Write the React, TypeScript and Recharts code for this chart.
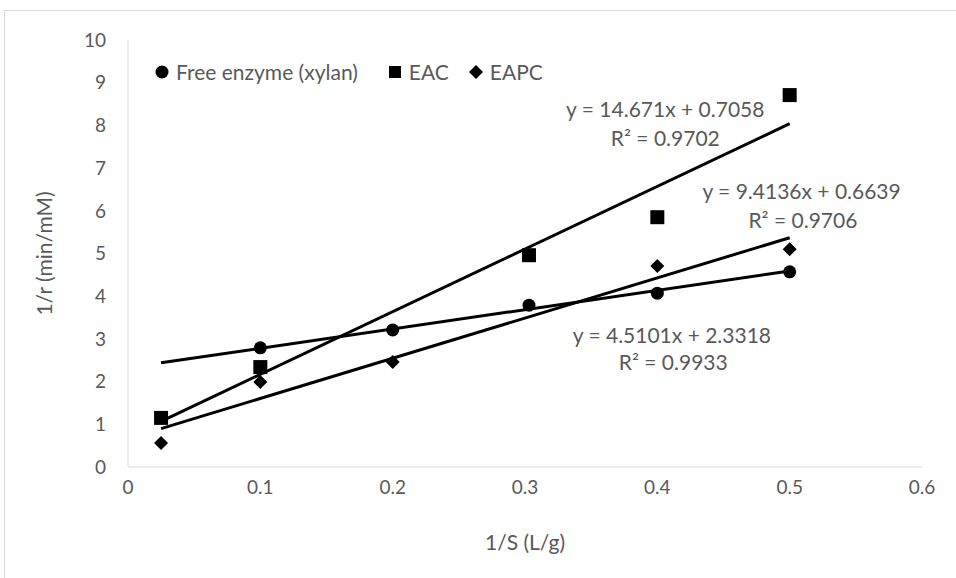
import {ComposedChart, Line, Scatter, XAxis, YAxis, ReferenceDot} from "recharts";

// measured points (1/S in L/g, 1/r in min/mM)
const xFree = [0.1, 0.2, 0.303, 0.4, 0.5]
const yFree = [2.79, 3.21, 3.79, 4.07, 4.57]
const xEac = [0.025, 0.1, 0.303, 0.4, 0.5]
const yEac = [1.15, 2.34, 4.96, 5.85, 8.71]
const xEapc = [0.025, 0.1, 0.2, 0.4, 0.5]
const yEapc = [0.56, 1.99, 2.46, 4.71, 5.1]

// linear trendlines, ends
const trendX = [0.025, 0.5]
const trendFree = [2.44, 4.59]
const trendEac = [1.07, 8.04]
const trendEapc = [0.90, 5.37]

const xTicks = [0, 0.1, 0.2, 0.3, 0.4, 0.5, 0.6]
const yTicks = [0, 1, 2, 3, 4, 5, 6, 7, 8, 9, 10]

const seriesNames = ["Free enzyme (xylan)", "EAC", "EAPC"]

// trendline equation labels: [x, y, text]
const equations: [number, number, string][] = [
    [0.406, 8.36, "y = 14.671x + 0.7058"],
    [0.406, 7.70, "R² = 0.9702"],
    [0.509, 6.44, "y = 9.4136x + 0.6639"],
    [0.510, 5.78, "R² = 0.9706"],
    [0.411, 3.09, "y = 4.5101x + 2.3318"],
    [0.412, 2.44, "R² = 0.9933"],
]

const FONT = "Lato, 'Open Sans', sans-serif"
const GREY = "#595959"

const zip = (xs: number[], ys: number[]) => xs.map((x, i) => ({x, y: ys[i]}))

const Dot = (p: any) => <circle cx={p.cx} cy={p.cy} r={6.5} fill="#000"/>
const Square = (p: any) => <rect x={p.cx - 7} y={p.cy - 7} width={14} height={14} fill="#000"/>
const Diamond = (p: any) => (
    <polygon points={`${p.cx},${p.cy - 7} ${p.cx + 7},${p.cy} ${p.cx},${p.cy + 7} ${p.cx - 7},${p.cy}`} fill="#000"/>
)

const icons = [
    <svg width={14} height={14}><circle cx={7} cy={7} r={6.5} fill="#000"/></svg>,
    <svg width={14} height={14}><rect x={1} y={1} width={12} height={12} fill="#000"/></svg>,
    <svg width={14} height={14}><polygon points="7,0 14,7 7,14 0,7" fill="#000"/></svg>,
]
const legendGap = [30, 20, 0]

const MyLegend = () => (
    <div style={{position: "absolute", left: 155, top: 59, display: "flex", alignItems: "center",
        fontFamily: FONT, fontSize: 21, color: GREY, whiteSpace: "nowrap"}}>
        {seriesNames.map((n, i) => (
            <div key={n} style={{display: "flex", alignItems: "center", marginRight: legendGap[i]}}>
                {icons[i]}
                <span style={{marginLeft: 7}}>{n}</span>
            </div>
        ))}
    </div>
)

const App = () => {
    return (
        <div style={{position: "absolute", left: 0, top: 0, width: 956, height: 578}}>
            <div style={{position: "absolute", left: 4, top: 10, width: 956, height: 578, border: "1px solid #d9d9d9", boxSizing: "border-box"}}/>
            <ComposedChart width={956} height={578} margin={{top: 40, right: 34, left: 0, bottom: 0}}>
                <XAxis type="number" dataKey="x" domain={[0, 0.6]} ticks={xTicks} height={111}
                       stroke="#d9d9d9" tickLine={false} tickSize={0} tickMargin={14}
                       tick={{fill: GREY, fontSize: 19, fontFamily: FONT}}
                       label={{value: "1/S (L/g)", position: "insideBottom", offset: 28, fill: GREY, fontSize: 21, fontFamily: FONT}}/>
                <YAxis type="number" domain={[0, 10]} ticks={yTicks} width={128}
                       stroke="#d9d9d9" tickLine={false} tickSize={0} tickMargin={22}
                       tick={{fill: GREY, fontSize: 19, fontFamily: FONT}}
                       label={{value: "1/r (min/mM)", angle: -90, position: "insideLeft", offset: 45, fill: GREY, fontSize: 21, fontFamily: FONT, style: {textAnchor: "middle"}}}/>
                <Line data={zip(trendX, trendFree)} dataKey="y" stroke="#000" strokeWidth={3} dot={false} isAnimationActive={false}/>
                <Line data={zip(trendX, trendEac)} dataKey="y" stroke="#000" strokeWidth={3} dot={false} isAnimationActive={false}/>
                <Line data={zip(trendX, trendEapc)} dataKey="y" stroke="#000" strokeWidth={3} dot={false} isAnimationActive={false}/>
                <Scatter name={seriesNames[0]} data={zip(xFree, yFree)} dataKey="y" shape={Dot} isAnimationActive={false}/>
                <Scatter name={seriesNames[1]} data={zip(xEac, yEac)} dataKey="y" shape={Square} isAnimationActive={false}/>
                <Scatter name={seriesNames[2]} data={zip(xEapc, yEapc)} dataKey="y" shape={Diamond} isAnimationActive={false}/>
                {equations.map(([x, y, t]) => (
                    <ReferenceDot key={t} x={x} y={y} r={0} stroke="none"
                                  label={{value: t, position: "center", fill: GREY, fontSize: 21, fontFamily: FONT}}/>
                ))}
            </ComposedChart>
            <MyLegend/>
        </div>
    )
}

export default App
